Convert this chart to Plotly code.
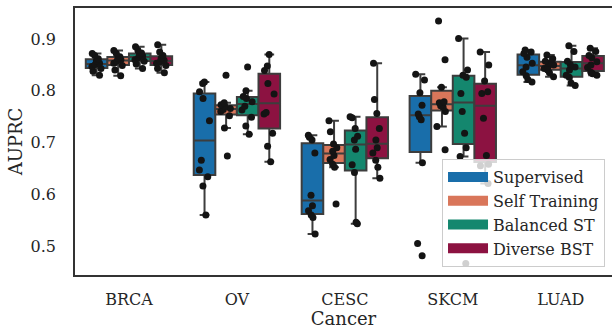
import numpy as np
import plotly.graph_objects as go

# ---- data ----
cancers = ["BRCA", "OV", "CESC", "SKCM", "LUAD"]
methods = ["Supervised", "Self Training", "Balanced ST", "Diverse BST"]

supervised = [
    [0.830, 0.838, 0.843, 0.847, 0.851, 0.853, 0.858, 0.862, 0.868, 0.872],  # BRCA
    [0.560, 0.616, 0.634, 0.647, 0.666, 0.742, 0.785, 0.798, 0.814, 0.817],  # OV
    [0.523, 0.555, 0.560, 0.568, 0.578, 0.598, 0.680, 0.705, 0.710, 0.714],  # CESC
    [0.481, 0.505, 0.661, 0.744, 0.750, 0.755, 0.772, 0.796, 0.821, 0.832],  # SKCM
    [0.817, 0.822, 0.829, 0.837, 0.846, 0.853, 0.865, 0.872, 0.875, 0.879],  # LUAD
]
self_training = [
    [0.829, 0.840, 0.849, 0.853, 0.857, 0.860, 0.863, 0.866, 0.872, 0.878],
    [0.674, 0.728, 0.752, 0.760, 0.764, 0.766, 0.770, 0.773, 0.777, 0.830],
    [0.581, 0.652, 0.658, 0.667, 0.675, 0.683, 0.690, 0.697, 0.721, 0.742],
    [0.686, 0.731, 0.760, 0.768, 0.771, 0.777, 0.779, 0.807, 0.860, 0.935],
    [0.827, 0.835, 0.840, 0.843, 0.846, 0.850, 0.853, 0.857, 0.862, 0.869],
]
balanced_st = [
    [0.843, 0.852, 0.857, 0.860, 0.864, 0.867, 0.870, 0.873, 0.878, 0.885],
    [0.716, 0.732, 0.749, 0.763, 0.770, 0.779, 0.785, 0.789, 0.800, 0.846],
    [0.543, 0.546, 0.642, 0.657, 0.687, 0.705, 0.712, 0.727, 0.748, 0.750],
    [0.466, 0.673, 0.690, 0.718, 0.760, 0.795, 0.826, 0.830, 0.840, 0.901],
    [0.810, 0.815, 0.826, 0.830, 0.840, 0.846, 0.851, 0.857, 0.876, 0.887],
]
diverse_bst = [
    [0.835, 0.843, 0.849, 0.853, 0.856, 0.859, 0.863, 0.868, 0.875, 0.889],
    [0.663, 0.693, 0.718, 0.755, 0.758, 0.794, 0.814, 0.839, 0.848, 0.870],
    [0.631, 0.652, 0.666, 0.680, 0.690, 0.705, 0.727, 0.756, 0.783, 0.853],
    [0.621, 0.655, 0.658, 0.675, 0.747, 0.795, 0.798, 0.819, 0.850, 0.875],
    [0.830, 0.833, 0.836, 0.845, 0.850, 0.856, 0.864, 0.868, 0.876, 0.882],
]
y_ticks = [0.5, 0.6, 0.7, 0.8, 0.9]

# ---- style ----
colors = ["#196eaa", "#d9765a", "#14876e", "#8c1241"]
edge = "#3d3d3d"
FONT = "DejaVu Serif"


def box_stats(values):
    """Quartiles (numpy linear) and 1.5*IQR whiskers, as seaborn/matplotlib."""
    a = np.asarray(values, dtype=float)
    q1, med, q3 = np.percentile(a, [25, 50, 75])
    iqr = q3 - q1
    lo = a[a >= q1 - 1.5 * iqr].min()
    hi = a[a <= q3 + 1.5 * iqr].max()
    return q1, med, q3, lo, hi


fig = go.Figure()
series = [supervised, self_training, balanced_st, diverse_bst]
for name, vals, col in zip(methods, series, colors):
    stats = [box_stats(v) for v in vals]
    fig.add_trace(go.Box(
        x=cancers, y=vals, name=name, showlegend=False,
        q1=[s[0] for s in stats], median=[s[1] for s in stats],
        q3=[s[2] for s in stats], lowerfence=[s[3] for s in stats],
        upperfence=[s[4] for s in stats],
        fillcolor=col, line=dict(color=edge, width=2),
        boxpoints="all", jitter=0.55, pointpos=0,
        marker=dict(color="#141414", size=7, line=dict(width=0)),
        whiskerwidth=0.45,
    ))
    # legend swatch
    fig.add_trace(go.Scatter(
        x=[None], y=[None], mode="lines", name=name,
        line=dict(color=col, width=12),
    ))

fig.update_layout(
    width=612, height=329,
    margin=dict(l=75, r=0, t=8, b=54, autoexpand=False),
    boxmode="group", boxgap=0.2, boxgroupgap=0,
    plot_bgcolor="white", paper_bgcolor="white",
    font=dict(family=FONT, size=16, color="#262626"),
    xaxis=dict(
        categoryorder="array", categoryarray=cancers,
        range=[-0.5, 4.475], showgrid=False, zeroline=False,
        showline=True, linecolor="#333333", linewidth=1.5, mirror=True,
        ticks="", ticklabelstandoff=9, automargin=False,
        title=dict(text="Cancer", font=dict(size=18, family=FONT), standoff=13),
    ),
    yaxis=dict(
        range=[0.444, 0.960], tickvals=y_ticks,
        ticktext=[f"{t:.1f}" for t in y_ticks],
        showgrid=False, zeroline=False,
        showline=True, linecolor="#333333", linewidth=1.5, mirror=False,
        ticks="", ticklabelstandoff=14, automargin=False,
        title=dict(text="AUPRC", font=dict(size=18, family=FONT), standoff=3),
    ),
    legend=dict(
        x=0.987, y=0.03, xanchor="right", yanchor="bottom",
        bgcolor="rgba(255,255,255,0.8)", bordercolor="#cccccc", borderwidth=1,
        font=dict(size=16, family=FONT, color="#262626"),
        tracegroupgap=0, itemwidth=40,
    ),
)

fig.write_html("out.html", config={"displayModeBar": False},
               post_script="document.body.style.margin='0';")
